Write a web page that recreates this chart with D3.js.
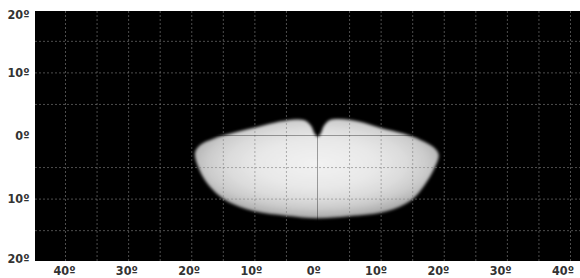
<!DOCTYPE html>
<html>
<head>
<meta charset="utf-8">
<script src="https://cdn.jsdelivr.net/npm/d3@7"></script>
<style>
  body { margin: 0; background: #fff; }
  svg { display: block; }
  .lbl { font-family: "DejaVu Sans Condensed", "DejaVu Sans", sans-serif; font-stretch: condensed; font-weight: bold; font-size: 12.5px; fill: #333; }
</style>
</head>
<body>
<div id="chart"></div>
<script>
// grid every 5 degrees, labels every 10
var gridLon = d3.range(-45, 50, 5);
var gridLat = d3.range(-20, 25, 5);
var xLabels = [-40, -30, -20, -10, 0, 10, 20, 30, 40];
var yLabels = [20, 10, 0, -10, -20];

// outline of the bright region (degrees)
var blobLon = [-19.4, -18.6, -16.5, -13, -9.5, -6.0, -3.5, -1.9, -1.0, -0.4, 0.1, 0.5, 1.0, 1.9, 3.5, 6.5, 10, 13.6, 16.3, 18.3, 19.2, 18.7, 17.0, 14.8, 11, 5, 0, -5, -10, -14.5, -17.3, -18.9];
var blobLat = [-2.7, -1.5, -0.5, 0.5, 1.35, 2.2, 2.55, 2.35, 1.5, 0.2, -0.2, 0.3, 1.5, 2.4, 2.6, 2.2, 1.2, 0.3, -0.7, -1.8, -3.0, -4.8, -7.8, -10.3, -12.0, -12.8, -13.1, -12.7, -12.0, -10.3, -7.8, -5.0];

var W = 580, H = 278;
var plot = {left: 35, top: 11, right: 580, bottom: 261};

var x = d3.scaleLinear().domain([-40, 40]).range([65, 570]);
var y = d3.scaleLinear().domain([-20, 20]).range([261.7, 9.3]);
// the bottom labels sit on a slightly tighter spacing than the grid
var xl = d3.scaleLinear().domain([-40, 40]).range([64.5, 563]);

var svg = d3.select('#chart')
    .append('svg')
    .attr('width', W)
    .attr('height', H);

var defs = svg.append('defs');
defs.append('clipPath').attr('id', 'plotclip')
    .append('rect')
    .attr('x', plot.left).attr('y', plot.top)
    .attr('width', plot.right - plot.left)
    .attr('height', plot.bottom - plot.top);

var grad = defs.append('radialGradient')
    .attr('id', 'glow')
    .attr('cx', 0.5).attr('cy', 0.45).attr('r', 0.6);
[[0, '#f2f2f2'], [0.4, '#e8e8e8'], [0.6, '#dcdcdc'], [0.75, '#cbcbcb'], [0.88, '#b0b0b0'], [1, '#909090']]
    .forEach(function(s) {
        grad.append('stop').attr('offset', s[0]).attr('stop-color', s[1]);
    });

defs.append('filter').attr('id', 'soft')
    .attr('x', '-10%').attr('y', '-10%').attr('width', '120%').attr('height', '120%')
    .append('feGaussianBlur').attr('stdDeviation', 1.8);

var g = svg.append('g').attr('clip-path', 'url(#plotclip)');

g.append('rect')
    .attr('x', plot.left).attr('y', plot.top)
    .attr('width', plot.right - plot.left)
    .attr('height', plot.bottom - plot.top)
    .attr('fill', '#000');

var blob = blobLon.map(function(d, i) { return [d, blobLat[i]]; });
var line = d3.line()
    .x(function(d) { return x(d[0]); })
    .y(function(d) { return y(d[1]); })
    .curve(d3.curveCatmullRomClosed.alpha(0.5));

g.append('path')
    .datum(blob)
    .attr('d', line)
    .attr('fill', 'url(#glow)')
    .attr('filter', 'url(#soft)');

// dashed grid, the zero lines are drawn separately
g.selectAll('line.vgrid')
    .data(gridLon.filter(function(d) { return d !== 0; }))
    .enter().append('line')
    .attr('class', 'vgrid')
    .attr('x1', function(d) { return x(d) + 0.5; })
    .attr('x2', function(d) { return x(d) + 0.5; })
    .attr('y1', plot.top).attr('y2', plot.bottom)
    .style('stroke', '#808080')
    .style('stroke-opacity', 0.6)
    .style('stroke-dasharray', '2,2');

g.selectAll('line.hgrid')
    .data(gridLat.filter(function(d) { return d !== 0; }))
    .enter().append('line')
    .attr('class', 'hgrid')
    .attr('y1', function(d) { return y(d) + 0.5; })
    .attr('y2', function(d) { return y(d) + 0.5; })
    .attr('x1', plot.left).attr('x2', plot.right)
    .style('stroke', '#808080')
    .style('stroke-opacity', 0.6)
    .style('stroke-dasharray', '2,2');

g.append('line')
    .attr('x1', x(0)).attr('x2', x(0))
    .attr('y1', plot.top).attr('y2', plot.bottom)
    .style('stroke', '#000').style('stroke-opacity', 0.35);
g.append('line')
    .attr('y1', y(0)).attr('y2', y(0))
    .attr('x1', plot.left).attr('x2', plot.right)
    .style('stroke', '#000').style('stroke-opacity', 0.35);

// labels
svg.selectAll('text.ylab')
    .data(yLabels)
    .enter().append('text')
    .attr('class', 'lbl ylab')
    .attr('x', plot.left - 5.5)
    .attr('y', function(d) { return Math.max(14, Math.min(258.5, y(d))); })
    .attr('dy', '0.36em')
    .attr('text-anchor', 'end')
    .text(function(d) { return Math.abs(d) + 'º'; });

svg.selectAll('text.xlab')
    .data(xLabels)
    .enter().append('text')
    .attr('class', 'lbl xlab')
    .attr('x', function(d) { return xl(d); })
    .attr('y', 275)
    .attr('text-anchor', 'middle')
    .text(function(d) { return Math.abs(d) + 'º'; });
</script>
</body>
</html>
